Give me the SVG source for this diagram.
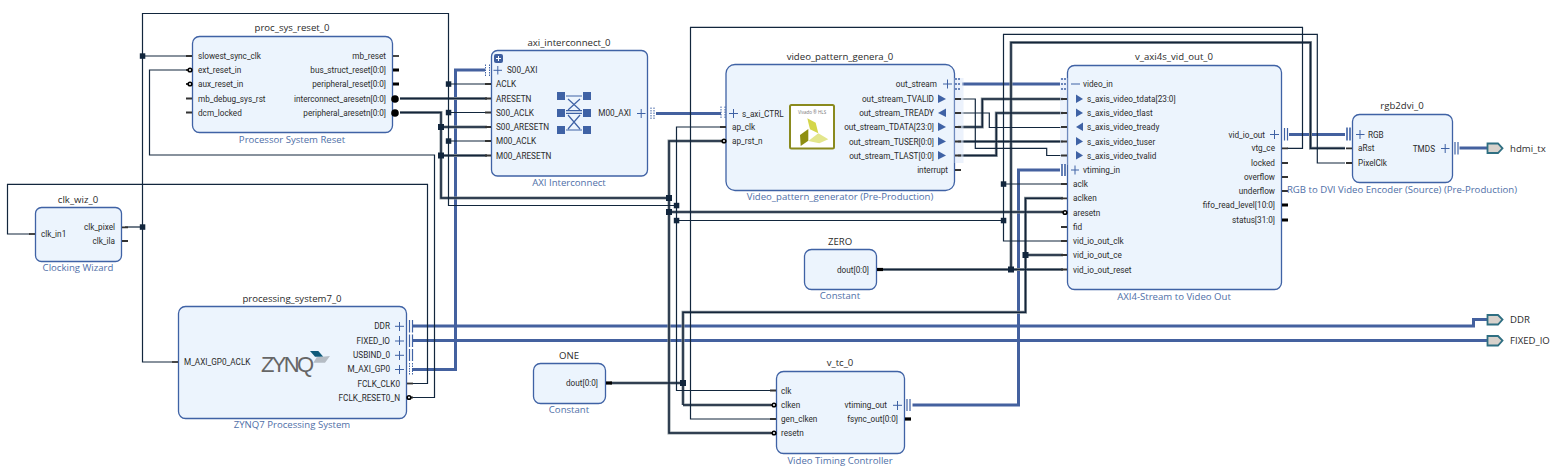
<svg xmlns="http://www.w3.org/2000/svg" width="1554" height="473" viewBox="0 0 1554 473">
<style>
text{font-family:"Open Sans","Noto Sans","Liberation Sans",sans-serif;fill:#2b2b2b}
.p{font-family:Roboto,"Open Sans",sans-serif;font-size:8.200px;fill:#2b2b2b}.r{text-anchor:end}.t{font-size:9.600px;text-anchor:middle}.s{font-size:9.600px;text-anchor:middle;fill:#4f6fa8}
.box{fill:#ecf4fd;stroke:#3f62a5;stroke-width:1.300}
.w{fill:none;stroke:#12263d;stroke-width:1.200}
.h{fill:none;stroke:#8b959c;stroke-width:3}
.c{fill:none;stroke:#14253a;stroke-width:1.500}
.b{fill:none;stroke:#44619f;stroke-width:3}
.j{fill:#12263d}
.pin{stroke:#333;stroke-width:1.800;fill:none}.bus{stroke:#000;stroke-width:3.200;fill:none}
.g{stroke:#3f62a5;stroke-width:1;fill:none}
.tri{fill:#3f62a5}
.bar{stroke:#3f62a5;stroke-width:1.200;fill:none}
.dot{stroke:#3f62a5;stroke-width:1;fill:none;stroke-dasharray:1.500 1}
.ring{fill:#fff;stroke:#000;stroke-width:1.600}
.ball{fill:#000}
.ext{fill:#d8d2cc;stroke:#2f6f82;stroke-width:1.800}
</style>
<rect width="1554" height="473" fill="#fff"/>
<g id="connectors">
<g id="blue">
<path class="b" d="M412 369.500H455.500V70H485"/>
<path class="b" d="M656 113.500H721"/>
<path class="b" d="M962 84H1060"/>
<path class="b" d="M1289 134.500H1345"/>
<path class="b" d="M1459.500 148H1487"/>
<path class="b" d="M1060 170H1018.500V405H912.500"/>
<path class="b" d="M412 326H1473.500V319.500H1487"/>
<path class="b" d="M412 340.500H1487"/>
</g>
<g id="thick-halo">
<path class="h" d="M400 98.500H487"/>
<path class="h" d="M400 112.500H441V198H669"/>
<path class="h" d="M441 127H487M441 155.500H487"/>
<path class="h" d="M722 141H669V433H771"/>
<path class="h" d="M669 212H1063"/>
<path class="h" d="M610 383H683M683 405V312.300H1025.500V198.300H1063M683 405H771M1025.500 255H1063"/>
<path class="h" d="M880 269.500H1063M1011 269.500V42.500H1310.500V148.300H1345"/>
<path class="h" d="M958 127H982.300V99H1063"/>
<path class="h" d="M958 141.500H1063"/>
<path class="h" d="M958 155.500H996.300V113H1063"/>
</g>
<g id="thick-core">
<path class="c" d="M400 98.500H487"/>
<path class="c" d="M400 112.500H441V198H669"/>
<path class="c" d="M441 127H487M441 155.500H487"/>
<path class="c" d="M722 141H669V433H771"/>
<path class="c" d="M669 212H1063"/>
<path class="c" d="M610 383H683M683 405V312.300H1025.500V198.300H1063M683 405H771M1025.500 255H1063"/>
<path class="c" d="M880 269.500H1063M1011 269.500V42.500H1310.500V148.300H1345"/>
<path class="c" d="M958 127H982.300V99H1063"/>
<path class="c" d="M958 141.500H1063"/>
<path class="c" d="M958 155.500H996.300V113H1063"/>
</g>
<g id="thin">
<path class="w" d="M412 383.500H427.500V184.300H7.500V234H30"/>
<path class="w" d="M412 397.500H434.500V155H149.500V70H186"/>
<path class="w" d="M125 227H142.500"/>
<path class="w" d="M186 56H142.500V13.500H448.500V205.500H676.500"/>
<path class="w" d="M142.500 56V362H172"/>
<path class="w" d="M448.500 84H487M448.500 112.500H487M448.500 141H487"/>
<path class="w" d="M722 127H676.500V390.500H771"/>
<path class="w" d="M676.500 220.500H1003.500"/>
<path class="w" d="M1063 241H1003.500V34.300H1317.300V163H1345"/>
<path class="w" d="M1003.500 184H1063"/>
<path class="w" d="M771 419H690.500V27.300H1302.500V148.300H1287"/>
<path class="w" d="M958 99H975.300V148.300H1046.700V155.500H1063"/>
<path class="w" d="M958 113H989.300V127.500H1063"/>
</g>
<g id="junctions">
<rect class="j" x="139.800" y="53.300" width="5.500" height="5.500"/>
<rect class="j" x="139.800" y="224.300" width="5.500" height="5.500"/>
<rect class="j" x="445.800" y="81.300" width="5.500" height="5.500"/>
<rect class="j" x="445.800" y="109.800" width="5.500" height="5.500"/>
<rect class="j" x="445.800" y="138.300" width="5.500" height="5.500"/>
<rect class="j" x="673.800" y="202.800" width="5.500" height="5.500"/>
<rect class="j" x="673.800" y="217.800" width="5.500" height="5.500"/>
<rect class="j" x="1000.800" y="181.300" width="5.500" height="5.500"/>
<rect class="j" x="1000.800" y="217.800" width="5.500" height="5.500"/>
<rect class="j" x="438" y="124" width="6" height="6"/>
<rect class="j" x="438" y="152.500" width="6" height="6"/>
<rect class="j" x="666" y="195" width="6" height="6"/>
<rect class="j" x="666" y="209" width="6" height="6"/>
<rect class="j" x="680" y="380" width="6" height="6"/>
<rect class="j" x="1008" y="266.500" width="6" height="6"/>
<rect class="j" x="1022.500" y="252" width="6" height="6"/>
</g>
</g>

<g id="proc_sys_reset_0">
<rect class="box" x="192.500" y="36.500" width="200" height="96" rx="7"/>
<text class="t" x="292" y="31">proc_sys_reset_0</text>
<text class="s" x="292" y="143">Processor System Reset</text>
<text class="p" x="198" y="59">slowest_sync_clk</text><text class="p" x="198" y="73">ext_reset_in</text><text class="p" x="198" y="87">aux_reset_in</text><text class="p" x="198" y="101.500">mb_debug_sys_rst</text><text class="p" x="198" y="115.500">dcm_locked</text>
<text class="p r" x="386" y="59">mb_reset</text><text class="p r" x="386" y="73">bus_struct_reset[0:0]</text><text class="p r" x="386" y="87">peripheral_reset[0:0]</text><text class="p r" x="386" y="101.500">interconnect_aresetn[0:0]</text><text class="p r" x="386" y="115.500">peripheral_aresetn[0:0]</text>
<path class="pin" d="M186 56H192M186 98.500H192M186 112.500H192"/>
<path class="pin" d="M186 70H188M186 84H188"/><circle class="ring" cx="190" cy="70" r="1.800"/><circle class="ring" cx="190" cy="84" r="1.800"/>
<path class="pin" d="M393 56H399"/><path class="bus" d="M393 70H399M393 84H399"/>
<circle class="ball" cx="395" cy="99" r="3.800"/><circle class="ball" cx="395" cy="113" r="3.800"/>
</g>

<g id="axi_interconnect_0">
<rect class="box" x="491.500" y="50.500" width="156" height="125.500" rx="6"/>
<text class="t" x="569" y="46">axi_interconnect_0</text>
<text class="s" x="569" y="186">AXI Interconnect</text>
<rect x="494" y="54" width="9" height="9" rx="2" fill="#3f5f9f"/><path d="M496 58.500H501M498.500 56V61" stroke="#fff" stroke-width="1"/>
<path class="g" d="M493.500 70.300H502M497.800 66V74.500"/>
<path class="dot" d="M485.500 64.500V76M489.500 64.500V76"/>
<text class="p" x="507" y="73">S00_AXI</text>
<text class="p" x="496" y="87">ACLK</text><text class="p" x="496" y="101.500">ARESETN</text><text class="p" x="496" y="115.500">S00_ACLK</text><text class="p" x="496" y="130">S00_ARESETN</text><text class="p" x="496" y="144">M00_ACLK</text><text class="p" x="496" y="158.500">M00_ARESETN</text>
<path class="pin" d="M485 84H491M485 98.500H491M485 112.500H491M485 127H491M485 141H491M485 155.500H491"/>
<text class="p r" x="631" y="116">M00_AXI</text>
<path class="g" d="M637 113.500H645.500M641.200 109V118"/>
<path class="dot" d="M651 107.500V119M654 107.500V119"/>
<g id="xbar" fill="#3f62a5">
<rect x="557" y="92" width="8" height="8"/><rect x="583" y="92" width="8" height="8"/>
<rect x="557" y="109" width="8" height="8"/><rect x="583" y="109" width="8" height="8"/>
<rect x="557" y="126" width="8" height="8"/><rect x="583" y="126" width="8" height="8"/>
<path d="M566 96H582M566 110.700H582M566 113.300H582M566 130H582M568 99L580 110M580 99L568 110M568 115L580 129M580 115L568 129" stroke="#3f62a5" stroke-width="1.200" fill="none"/>
</g>
</g>

<g id="video_pattern_genera_0">
<rect class="box" x="726" y="64.500" width="228.500" height="126" rx="9"/>
<text class="t" x="840" y="60">video_pattern_genera_0</text>
<text class="s" x="840" y="200">Video_pattern_generator (Pre-Production)</text>
<path class="g" d="M729 113.500H738M733.500 109V118"/>
<path class="dot" d="M721 106.500V119M725 106.500V119"/>
<text class="p" x="742" y="116.500">s_axi_CTRL</text>
<text class="p" x="732" y="130">ap_clk</text><text class="p" x="732" y="144">ap_rst_n</text>
<path class="pin" d="M720 127H726M720 141H722"/><circle class="ring" cx="724" cy="141" r="1.800"/>
<rect x="790" y="105" width="44" height="43.500" rx="1.500" fill="#fff" stroke="#8a8a1e" stroke-width="2"/>
<text x="812" y="114" style="fill:#777;font-size:4.500px" text-anchor="middle">Vivado ® HLS</text>
<polygon points="807.300,118.300 815.700,122.700 818.300,133.300 810,129.300" fill="#d4d64a"/>
<polygon points="808.300,141 818.300,133.300 828.300,139.300 819.300,143.300" fill="#e3e68c"/>
<polygon points="800,135 808.300,129 808.300,140.700 800.700,146" fill="#8e8e12"/>
<rect x="954.500" y="78" width="9" height="85" fill="#dfeafa" opacity=".6"/>
<text class="p r" x="937" y="87">out_stream</text>
<path class="g" d="M943 84H952M947.500 79.500V88.500"/>
<path d="M955 79H961M955 84H961M955 89H961" stroke="#3f62a5" stroke-width="1.500" stroke-dasharray="2 1"/>
<text class="p r" x="934" y="102">out_stream_TVALID</text><text class="p r" x="934" y="116">out_stream_TREADY</text><text class="p r" x="934" y="130">out_stream_TDATA[23:0]</text><text class="p r" x="934" y="144.500">out_stream_TUSER[0:0]</text><text class="p r" x="934" y="158.500">out_stream_TLAST[0:0]</text><text class="p r" x="948" y="173">interrupt</text>
<polygon class="tri" points="938,94.500 946,99 938,103"/>
<polygon class="tri" points="946,108.500 938,113 946,117"/>
<polygon class="tri" points="938,122.500 946,127 938,131"/>
<polygon class="tri" points="938,137 946,141.500 938,145.500"/>
<polygon class="tri" points="938,151 946,155.500 938,159.500"/>
<path class="pin" d="M955 99H961M955 113H961M955 127H961M955 141.500H961M955 155.500H961M955 170H961"/>
</g>

<g id="v_axi4s_vid_out_0">
<rect class="box" x="1067.500" y="65.500" width="214" height="224" rx="7"/>
<text class="t" x="1174" y="60">v_axi4s_vid_out_0</text>
<text class="s" x="1174" y="300">AXI4-Stream to Video Out</text>
<rect x="1060" y="78" width="7.500" height="87" fill="#dfeafa" opacity=".6"/>
<path d="M1061 79H1067M1061 84H1067M1061 89H1067" stroke="#3f62a5" stroke-width="1.500" stroke-dasharray="2 1"/>
<path class="g" d="M1071 84H1080"/>
<text class="p" x="1083" y="87">video_in</text>
<text class="p" x="1087" y="102">s_axis_video_tdata[23:0]</text><text class="p" x="1087" y="116">s_axis_video_tlast</text><text class="p" x="1087" y="130">s_axis_video_tready</text><text class="p" x="1087" y="144.500">s_axis_video_tuser</text><text class="p" x="1087" y="158.500">s_axis_video_tvalid</text>
<polygon class="tri" points="1076,94.500 1083,99 1076,103"/>
<polygon class="tri" points="1076,108.500 1083,113 1076,117"/>
<polygon class="tri" points="1083,122.500 1076,127 1083,131"/>
<polygon class="tri" points="1076,137 1083,141.500 1076,145.500"/>
<polygon class="tri" points="1076,151 1083,155.500 1076,159.500"/>
<path class="pin" d="M1061 99H1067M1061 113H1067M1061 127H1067M1061 141.500H1067M1061 155.500H1067"/>
<path class="bar" d="M1062 164V176M1065 164V176" style="stroke-width:1.600"/>
<path class="g" d="M1071 170H1079M1075 165.500V174.500"/>
<text class="p" x="1083" y="173">vtiming_in</text>
<text class="p" x="1073" y="187">aclk</text><text class="p" x="1073" y="201">aclken</text><text class="p" x="1073" y="215.500">aresetn</text><text class="p" x="1073" y="230">fid</text><text class="p" x="1073" y="244">vid_io_out_clk</text><text class="p" x="1073" y="258">vid_io_out_ce</text><text class="p" x="1073" y="272.500">vid_io_out_reset</text>
<path class="pin" d="M1061 184H1067M1061 198.300H1067M1061 212H1063M1061 227H1067M1061 241H1067M1061 255H1067M1061 269.500H1067"/><circle class="ring" cx="1065" cy="212.500" r="1.800"/>
<text class="p r" x="1265" y="137.500">vid_io_out</text>
<path class="g" d="M1270 134.500H1279M1274.500 130V139"/>
<path class="bar" d="M1284.500 128V140.500M1287.500 128V140.500"/>
<text class="p r" x="1275" y="151">vtg_ce</text><text class="p r" x="1275" y="166">locked</text><text class="p r" x="1275" y="180">overflow</text><text class="p r" x="1275" y="194">underflow</text><text class="p r" x="1275" y="208">fifo_read_level[10:0]</text><text class="p r" x="1275" y="223">status[31:0]</text>
<path class="pin" d="M1282 148.300H1288M1282 163H1288M1282 177H1288M1282 191H1288"/><path class="bus" d="M1282 205H1288M1282 220H1288"/>
</g>

<g id="rgb2dvi_0">
<rect class="box" x="1352.500" y="114.500" width="100" height="68" rx="7"/>
<text class="t" x="1402" y="109">rgb2dvi_0</text>
<text class="s" x="1402" y="193">RGB to DVI Video Encoder (Source) (Pre-Production)</text>
<path class="bar" d="M1347 127.500V140.500M1350 127.500V140.500" style="stroke-width:1.600"/>
<path class="g" d="M1356 134.500H1364.500M1360 130V139"/>
<text class="p" x="1368" y="137.500">RGB</text><text class="p" x="1358" y="151">aRst</text><text class="p" x="1358" y="166">PixelClk</text>
<path class="pin" d="M1346 148.300H1352M1346 163H1352"/>
<text class="p r" x="1435" y="151.500">TMDS</text>
<path class="g" d="M1441 148.500H1449.500M1445.200 144V153"/>
<path class="bar" d="M1455 142V154.500M1458 142V154.500"/>
</g>

<g id="hdmi_tx">
<polygon class="ext" points="1487.500,143.500 1498,143.500 1502.500,148.300 1498,153 1487.500,153"/>
<text x="1510" y="152" style="font-size:9.600px">hdmi_tx</text>
</g>
<g id="DDR">
<polygon class="ext" points="1487.500,315 1498,315 1502.500,319.500 1498,324.500 1487.500,324.500"/>
<text x="1510" y="323" style="font-size:9.600px">DDR</text>
</g>
<g id="FIXED_IO">
<polygon class="ext" points="1487.500,336 1498,336 1502.500,340.500 1498,345.500 1487.500,345.500"/>
<text x="1510" y="344" style="font-size:9.600px">FIXED_IO</text>
</g>

<g id="clk_wiz_0">
<rect class="box" x="35.500" y="207.500" width="86" height="54" rx="6"/>
<text class="t" x="78" y="203">clk_wiz_0</text>
<text class="s" x="78" y="271">Clocking Wizard</text>
<text class="p" x="41" y="237">clk_in1</text>
<text class="p r" x="115" y="230">clk_pixel</text><text class="p r" x="115" y="244">clk_ila</text>
<path class="pin" d="M29 234H35"/><path class="pin" d="M122 227.300H128M122 241H128"/>
</g>

<g id="processing_system7_0">
<rect class="box" x="178.500" y="306.500" width="228" height="112" rx="7"/>
<text class="t" x="292" y="302">processing_system7_0</text>
<text class="s" x="292" y="428">ZYNQ7 Processing System</text>
<text class="p" x="184" y="365">M_AXI_GP0_ACLK</text><path class="pin" d="M172 362H178"/>
<text x="261" y="372" textLength="53" style="font-size:22px;fill:#666;font-family:'Liberation Sans',sans-serif">ZYNQ</text>
<polygon points="310,351 318.300,351 323.300,356.700 315,356.700" fill="#0f5a7a"/>
<polygon points="316.700,357.300 330,356 325,362.700 313.300,362.700" fill="#b5bcc4"/>
<text class="p r" x="390" y="329">DDR</text><text class="p r" x="390" y="343.500">FIXED_IO</text><text class="p r" x="390" y="358">USBIND_0</text><text class="p r" x="390" y="372">M_AXI_GP0</text><text class="p r" x="400" y="386.500">FCLK_CLK0</text><text class="p r" x="400" y="400.500">FCLK_RESET0_N</text>
<path class="g" d="M395 326.300H404M399.500 322V331M395 341H404M399.500 336V345M395 355.300H404M399.500 351V360M395 369.500H404M399.500 365V374"/>
<path class="bar" d="M409.500 320V332.500M412.500 320V332.500M409.500 334.500V347M412.500 334.500V347M409.500 349V361M412.500 349V361"/>
<path class="dot" d="M409.500 363V375M412.500 363V375"/>
<path class="pin" d="M407 383.500H413"/><path class="pin" d="M411 397.500H413"/><circle class="ring" cx="409" cy="397.500" r="1.800"/>
</g>

<g id="ZERO">
<rect class="box" x="804.500" y="249.500" width="72" height="40" rx="7"/>
<text class="t" x="840" y="245">ZERO</text>
<text class="s" x="840" y="299">Constant</text>
<text class="p r" x="869" y="272.500">dout[0:0]</text>
<path class="bus" d="M877 269.500H883"/>
</g>

<g id="ONE">
<rect class="box" x="533.500" y="363.500" width="72" height="40" rx="7"/>
<text class="t" x="569" y="359">ONE</text>
<text class="s" x="569" y="413">Constant</text>
<text class="p r" x="598" y="386">dout[0:0]</text>
<path class="bus" d="M606 383H612"/>
</g>

<g id="v_tc_0">
<rect class="box" x="776.500" y="371.500" width="128" height="82" rx="7"/>
<text class="t" x="840" y="366">v_tc_0</text>
<text class="s" x="840" y="464">Video Timing Controller</text>
<text class="p" x="781" y="393.500">clk</text><text class="p" x="781" y="408">clken</text><text class="p" x="781" y="422">gen_clken</text><text class="p" x="781" y="436">resetn</text>
<path class="pin" d="M770 390.500H776M770 419H776M770 405H772M770 433H772"/><circle class="ring" cx="774" cy="405" r="1.800"/><circle class="ring" cx="774" cy="433" r="1.800"/>
<text class="p r" x="887" y="408">vtiming_out</text><text class="p r" x="898" y="422">fsync_out[0:0]</text>
<path class="g" d="M893 405.300H902M897.500 401V410"/>
<path class="bar" d="M907 399V411M910 399V411"/>
<path class="bus" d="M905 419H911"/>
</g>
</svg>
